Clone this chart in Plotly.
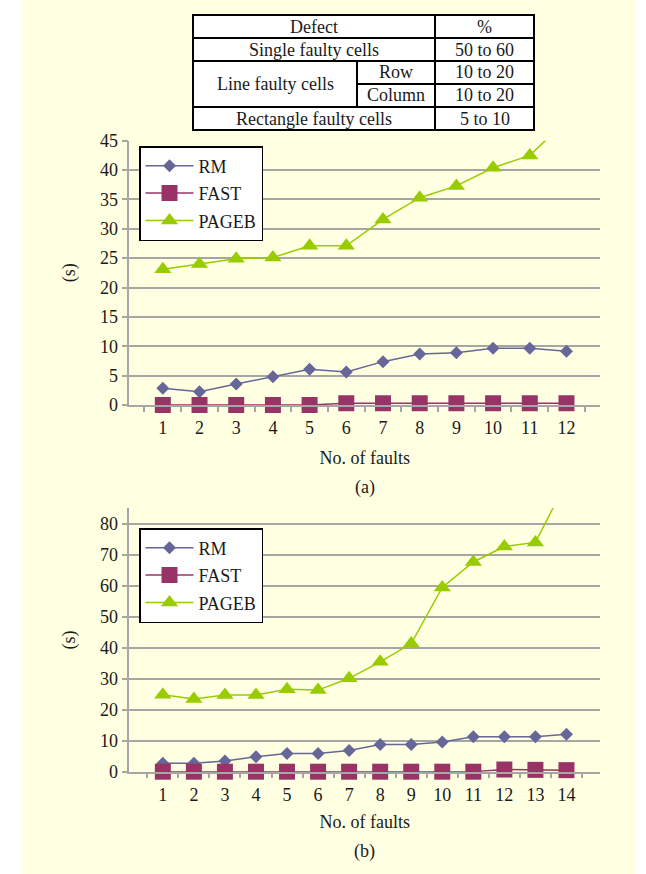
import plotly.graph_objects as go

W, H = 646, 874

# ---------------- data ----------------
faults_a = ["1", "2", "3", "4", "5", "6", "7", "8", "9", "10", "11", "12"]
rm_a = [2.84, 2.27, 3.58, 4.82, 6.07, 5.62, 7.38, 8.68, 8.91, 9.65, 9.65, 9.14]
fast_a = [0.0, 0.0, 0.0, 0.0, 0.0, 0.3, 0.3, 0.3, 0.3, 0.3, 0.3, 0.3]
pageb_a = [23.1, 24.0, 24.9, 25.1, 27.1, 27.1, 31.6, 35.3, 37.3, 40.4, 42.5, 48.4]

faults_b = ["1", "2", "3", "4", "5", "6", "7", "8", "9", "10", "11", "12", "13", "14"]
rm_b = [2.7, 2.7, 3.45, 4.8, 5.9, 5.9, 6.8, 8.8, 8.8, 9.6, 11.3, 11.3, 11.3, 12.1]
fast_b = [0.0, 0.0, 0.0, 0.0, 0.0, 0.0, 0.0, 0.0, 0.0, 0.0, 0.0, 0.7, 0.6, 0.5]
pageb_b = [24.8, 23.4, 24.7, 24.7, 26.6, 26.3, 30.1, 35.4, 41.3, 59.4, 67.6, 72.6, 73.9, 93.4]

series_names = ["RM", "FAST", "PAGEB"]
yticks_a = [0, 5, 10, 15, 20, 25, 30, 35, 40, 45]
yticks_b = [0, 10, 20, 30, 40, 50, 60, 70, 80]

table_header = ["Defect", "%"]
defect_types = ["Single faulty cells", "Line faulty cells", "Rectangle faulty cells"]
line_subtypes = ["Row", "Column"]
percent_ranges = ["50 to 60", "10 to 20", "10 to 20", "5 to 10"]

# ---------------- style ----------------
FONT = "Liberation Serif"
FS = 18
TXT = "#1a1a1a"
PANEL = "#FFFFE1"
GRID = "#A6A6A6"
COLORS = {"RM": "#666699", "FAST": "#993366", "PAGEB": "#99CC00"}
SYMBOLS = {"RM": "diamond", "FAST": "square", "PAGEB": "triangle-up"}
SIZES = {"RM": 10, "FAST": 16, "PAGEB": 15}


def px(x):
    return x / W


def py(y):
    return 1 - y / H


x_dom = [px(129.3), px(600)]
ya_dom = [py(405), py(140.7)]
yb_dom = [py(771.7), py(508.3)]

fig = go.Figure()

for cats, vals, xa, ya, leg in [
    (faults_a, [rm_a, fast_a, pageb_a], "x", "y", "legend"),
    (faults_b, [rm_b, fast_b, pageb_b], "x2", "y2", "legend2"),
]:
    for name, v in zip(series_names, vals):
        fig.add_trace(go.Scatter(
            x=cats, y=v, name=name, mode="lines+markers",
            xaxis=xa, yaxis=ya, legend=leg, legendgroup=name + leg,
            line=dict(color=COLORS[name], width=1.5),
            marker=dict(symbol=SYMBOLS[name], size=SIZES[name],
                        color=COLORS[name], line=dict(width=0)),
            cliponaxis=(name == "PAGEB"),
        ))


def xaxis_cfg(anchor, standoff):
    return dict(
        domain=x_dom, anchor=anchor, type="category", automargin=False,
        tickson="boundaries", ticks="outside", ticklen=5, tickwidth=1.5,
        tickcolor=GRID, showline=True, linecolor=GRID, linewidth=1.5,
        showgrid=False, zeroline=False, ticklabelstandoff=6,
        tickfont=dict(family=FONT, size=FS, color=TXT),
        title=dict(text="No. of faults", font=dict(family=FONT, size=FS, color=TXT),
                   standoff=standoff),
    )


def yaxis_cfg(anchor, dom, rng, ticks):
    return dict(
        domain=dom, anchor=anchor, range=rng, tickvals=ticks, automargin=False,
        ticks="outside", ticklen=6, tickwidth=1.5, tickcolor=GRID,
        showline=True, linecolor=GRID, linewidth=1.5,
        showgrid=True, gridcolor=GRID, gridwidth=1.5, zeroline=False,
        tickfont=dict(family=FONT, size=FS, color=TXT),
        title=dict(text="(s)", font=dict(family=FONT, size=FS, color=TXT),
                   standoff=20),
    )


def legend_cfg(x, y):
    return dict(
        x=px(x), y=py(y), xanchor="left", yanchor="top",
        bgcolor="white", bordercolor="black", borderwidth=1.5,
        font=dict(family=FONT, size=FS, color=TXT),
        itemwidth=48, entrywidth=70, traceorder="grouped", tracegroupgap=1,
    )


fig.update_layout(
    width=W, height=H,
    margin=dict(l=0, r=0, t=0, b=0, autoexpand=False),
    paper_bgcolor="white", plot_bgcolor="white",
    font=dict(family=FONT, size=FS, color=TXT),
    xaxis=xaxis_cfg("y", 14),
    yaxis=yaxis_cfg("x", ya_dom, [0, 45], yticks_a),
    xaxis2=xaxis_cfg("y2", 11),
    yaxis2=yaxis_cfg("x2", yb_dom, [0, 84.9], yticks_b),
    legend=legend_cfg(139, 146),
    legend2=legend_cfg(139, 528),
)

shapes = [dict(type="rect", xref="paper", yref="paper",
               x0=px(22), y0=0, x1=px(636), y1=1,
               fillcolor=PANEL, line=dict(width=0), layer="below")]

# ---------------- defect table (merged cells) ----------------
tx0, tx1, tx2, tx3 = 193, 357, 435, 534
ty = [15, 38, 61, 84, 107, 130]


def line(x0, y0, x1, y1):
    shapes.append(dict(type="line", xref="paper", yref="paper",
                       x0=px(x0), y0=py(y0), x1=px(x1), y1=py(y1),
                       line=dict(color="black", width=2)))


shapes.append(dict(type="rect", xref="paper", yref="paper",
                   x0=px(tx0), y0=py(ty[0]), x1=px(tx3), y1=py(ty[-1]),
                   fillcolor="white", line=dict(color="black", width=2), layer="above"))
line(tx2, ty[0], tx2, ty[5])
line(tx0, ty[1], tx3, ty[1])
line(tx0, ty[2], tx3, ty[2])
line(tx1, ty[3], tx3, ty[3])
line(tx0, ty[4], tx3, ty[4])
line(tx1, ty[2], tx1, ty[4])

annotations = []


def txt(s, x, y):
    annotations.append(dict(text=s, x=px(x), y=py(y), xref="paper", yref="paper",
                            showarrow=False, xanchor="center", yanchor="middle",
                            font=dict(family=FONT, size=FS, color=TXT)))


mid_l = (tx0 + tx2) / 2
mid_p = (tx2 + tx3) / 2
rc = [(ty[i] + ty[i + 1]) / 2 for i in range(5)]
txt(table_header[0], mid_l, rc[0])
txt(table_header[1], mid_p, rc[0])
txt(defect_types[0], mid_l, rc[1])
txt(defect_types[1], (tx0 + tx1) / 2, ty[3])
txt(line_subtypes[0], (tx1 + tx2) / 2, rc[2])
txt(line_subtypes[1], (tx1 + tx2) / 2, rc[3])
txt(defect_types[2], mid_l, rc[4])
for i, p in enumerate(percent_ranges):
    txt(p, mid_p, rc[i + 1])

xc = (129.3 + 600) / 2
txt("(a)", xc, 487)
txt("(b)", xc, 851.7)

fig.update_layout(shapes=shapes, annotations=annotations)
fig.write_html("out.html", config={"displayModeBar": False},
               post_script="document.body.style.margin='0px';"
                           "document.body.style.overflow='hidden';")
